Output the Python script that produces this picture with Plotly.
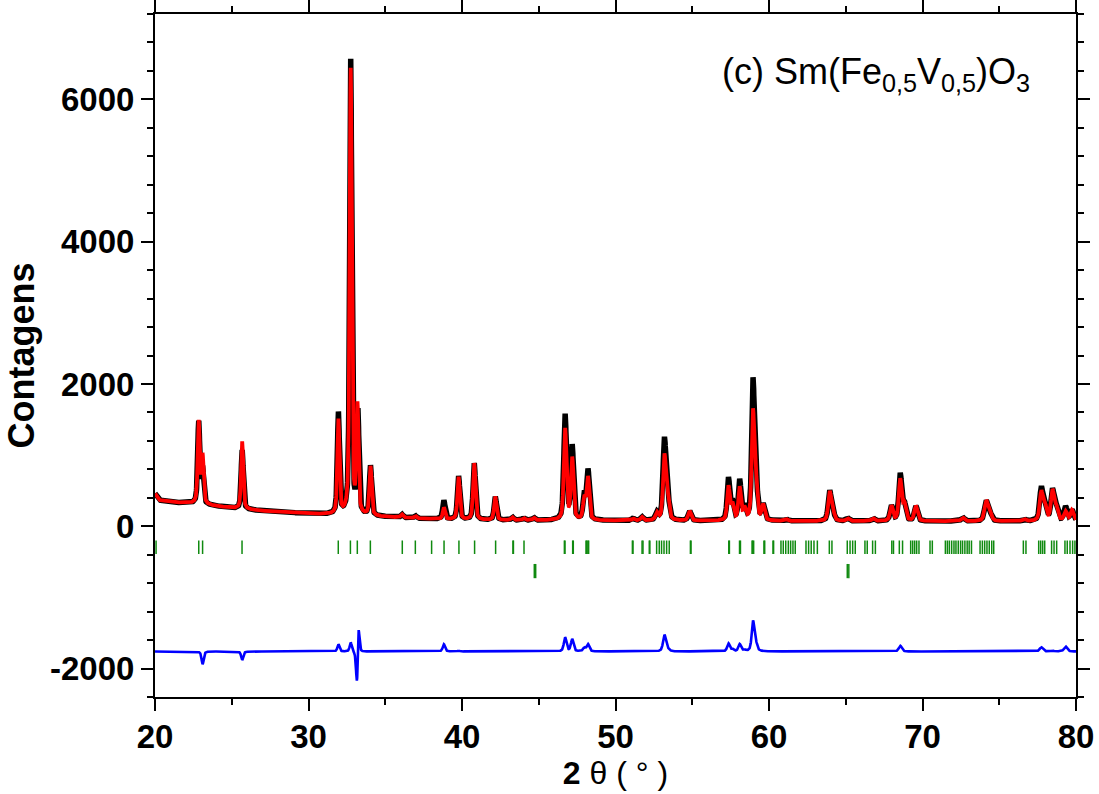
import numpy as np
import plotly.graph_objects as go

# ---- reflection list: position (2θ), net calc / obs heights, FWHM ----
peak_pos = [22.85, 23.10, 25.68, 31.95, 32.75, 33.19, 34.04, 36.08, 36.95, 38.82,
            39.78, 40.80, 42.17, 43.28, 44.02, 44.68, 46.72, 47.18, 47.97, 48.21,
            51.15, 51.72, 52.70, 53.19, 53.40, 54.83, 57.36, 57.62, 58.09, 58.40,
            58.96, 59.15, 59.62, 61.12, 63.95, 64.15, 65.12, 66.78, 67.98, 68.55,
            68.82, 69.57, 72.62, 74.15, 74.40, 76.60, 77.74, 77.98, 78.47, 78.72,
            79.32, 79.74]
# observed maxima (the 33.2° reflection sits slightly higher in the measured pattern)
obs_pos = [22.85, 23.10, 25.68, 31.95, 32.75, 33.22, 34.04, 36.08, 36.95, 38.82,
           39.78, 40.80, 42.17, 43.28, 44.02, 44.68, 46.72, 47.18, 47.97, 48.21,
           51.15, 51.72, 52.70, 53.19, 53.40, 54.83, 57.36, 57.62, 58.09, 58.40,
           58.96, 59.15, 59.62, 61.12, 63.95, 64.15, 65.12, 66.78, 67.98, 68.55,
           68.82, 69.57, 72.62, 74.15, 74.40, 76.60, 77.74, 77.98, 78.47, 78.72,
           79.32, 79.74]
calc_height = [1150, 670, 950, 1320, 6260, 1500, 690, 45, 35, 165,
               600, 795, 330, 40, 30, 35, 1280, 865, 300, 595,
               30, 50, 100, 900, 300, 135, 480, 220, 460, 160,
               1500, 500, 215, 25, 400, 150, 40, 40, 210, 580,
               230, 210, 50, 280, 100, 30, 400, 200, 420, 180,
               130, 150]
obs_height = [1150, 490, 830, 1420, 6390, 1415, 700, 45, 35, 265,
              610, 795, 330, 40, 30, 35, 1475, 1035, 350, 695,
              30, 50, 100, 1130, 330, 135, 590, 250, 560, 180,
              1920, 600, 215, 25, 410, 150, 40, 40, 210, 660,
              230, 210, 50, 280, 100, 30, 460, 200, 430, 180,
              200, 150]
peak_fwhm = [0.16, 0.16, 0.16, 0.16, 0.16, 0.16, 0.17, 0.18, 0.18, 0.18,
             0.18, 0.18, 0.18, 0.18, 0.18, 0.18, 0.20, 0.20, 0.20, 0.20,
             0.20, 0.20, 0.22, 0.22, 0.22, 0.22, 0.20, 0.20, 0.20, 0.20,
             0.20, 0.20, 0.22, 0.22, 0.22, 0.22, 0.24, 0.24, 0.22, 0.22,
             0.22, 0.24, 0.26, 0.26, 0.26, 0.26, 0.24, 0.24, 0.24, 0.24,
             0.24, 0.24]

# ---- refined background anchors (2θ, counts) ----
bg_2theta = [20.0, 20.25, 21.0, 23.0, 25.0, 27.0, 29.0, 31.0, 33.0, 35.0,
             37.0, 39.0, 42.0, 50.0, 60.0, 70.0, 80.0]
bg_counts = [460, 370, 340, 310, 255, 215, 190, 165, 150, 130,
             110, 95, 85, 78, 72, 70, 70]

# ---- Bragg positions of the two phases ----
phase1_ticks = [20.07, 22.85, 23.10, 25.67, 31.94, 32.73, 33.18, 34.03, 36.11, 36.96,
                38.02, 38.83, 39.80, 40.82, 42.19, 43.32, 43.35, 44.04, 46.67, 46.71,
                47.21, 47.25, 48.08, 48.12, 48.20, 48.25, 51.10, 51.14, 51.73, 51.79,
                52.20, 52.24, 52.68, 52.85, 53.00, 53.16, 53.33, 53.50, 54.88, 54.92,
                57.38, 57.42, 58.08, 58.14, 58.90, 58.93, 59.00, 59.67, 59.72, 60.26,
                60.30, 60.78, 60.93, 61.09, 61.26, 61.41, 61.56, 61.71, 62.41, 62.58,
                62.75, 62.93, 63.15, 63.93, 64.10, 65.10, 65.28, 65.45, 65.62, 66.25,
                66.40, 66.75, 66.93, 68.00, 68.11, 68.49, 68.70, 69.23, 69.36, 69.49,
                69.62, 69.77, 70.49, 70.64, 71.49, 71.62, 71.75, 71.90, 72.05, 72.18,
                72.33, 72.48, 72.61, 72.76, 72.91, 73.04, 73.19, 73.75, 73.90, 74.05,
                74.20, 74.35, 74.51, 74.64, 76.57, 76.74, 77.57, 77.70, 77.83, 77.96,
                78.41, 78.57, 78.74, 79.28, 79.43, 79.61, 79.78, 79.93]
phase2_ticks = [44.71, 44.80, 65.10, 65.20]

diff_offset = -1760
two_theta = np.arange(20.0, 80.0001, 0.01)


def profile(positions, heights):
    """Pseudo-Voigt sum over the reflection list on top of the background."""
    y = np.interp(two_theta, bg_2theta, bg_counts)
    for p, h, w in zip(positions, heights, peak_fwhm):
        d = (two_theta - p) / (w / 2)
        lor = 1.0 / (1.0 + d ** 2)
        gau = np.exp(-np.log(2) * d ** 2)
        y = y + h * (0.5 * lor + 0.5 * gau)
    return y


y_calc = profile(peak_pos, calc_height)
y_obs = profile(obs_pos, obs_height)
y_diff = y_obs - y_calc + diff_offset


def tick_segments(positions, y0, y1):
    xs, ys = [], []
    for p in positions:
        xs += [p, p, None]
        ys += [y0, y1, None]
    return xs, ys


fig = go.Figure()
fig.add_trace(go.Scatter(x=two_theta, y=y_obs, mode="lines",
                         line=dict(color="black", width=5.5), name="Yobs"))
fig.add_trace(go.Scatter(x=two_theta, y=y_calc, mode="lines",
                         line=dict(color="#ff0000", width=3.8), name="Ycalc"))
x1, yy1 = tick_segments(phase1_ticks, -200, -390)
fig.add_trace(go.Scatter(x=x1, y=yy1, mode="lines",
                         line=dict(color="#108a10", width=1.5), name="Bragg 1"))
x2, yy2 = tick_segments(phase2_ticks, -530, -730)
fig.add_trace(go.Scatter(x=x2, y=yy2, mode="lines",
                         line=dict(color="#108a10", width=1.5), name="Bragg 2"))
fig.add_trace(go.Scatter(x=two_theta, y=y_diff, mode="lines",
                         line=dict(color="#0000ff", width=2.6), name="Yobs-Ycalc"))

FONT = "Liberation Sans, Arial, sans-serif"
axis_font = dict(family=FONT, size=33, color="black", weight=700)

fig.update_xaxes(range=[20, 80], tickvals=[20, 30, 40, 50, 60, 70, 80],
                 ticks="outside", ticklen=12, tickwidth=2, tickcolor="black",
                 minor=dict(dtick=5, ticks="outside", ticklen=6, tickwidth=2, tickcolor="black"),
                 showline=True, linewidth=2, linecolor="black", mirror="ticks",
                 showgrid=False, zeroline=False, tickfont=axis_font, automargin=False,
                 ticklabelstandoff=-3,
                 title=dict(text="<b>2</b> θ ( ° )", standoff=4,
                            font=dict(family=FONT, size=32, color="black")))
fig.update_yaxes(range=[-2400, 7200], tickvals=[-2000, 0, 2000, 4000, 6000],
                 ticktext=["-2000", "0", "2000", "4000", "6000"],
                 ticks="outside", ticklen=12, tickwidth=2, tickcolor="black",
                 minor=dict(dtick=400, ticks="outside", ticklen=6, tickwidth=2, tickcolor="black"),
                 showline=True, linewidth=2, linecolor="black", mirror="ticks",
                 showgrid=False, zeroline=False, tickfont=axis_font, automargin=False,
                 title=dict(text="<b>Contagens</b>", standoff=4,
                            font=dict(family=FONT, size=36, color="black")))

fig.add_annotation(xref="paper", yref="paper", x=0.614, y=0.912, xanchor="left", yanchor="middle",
                   text="(c) Sm(Fe<sub>0,5</sub>V<sub>0,5</sub>)O<sub>3</sub>", showarrow=False,
                   font=dict(family=FONT, size=36, color="black"))

fig.update_layout(width=1099, height=794, showlegend=False,
                  plot_bgcolor="white", paper_bgcolor="white",
                  margin=dict(l=155, r=23, t=14, b=97))

fig.write_html("out.html")
